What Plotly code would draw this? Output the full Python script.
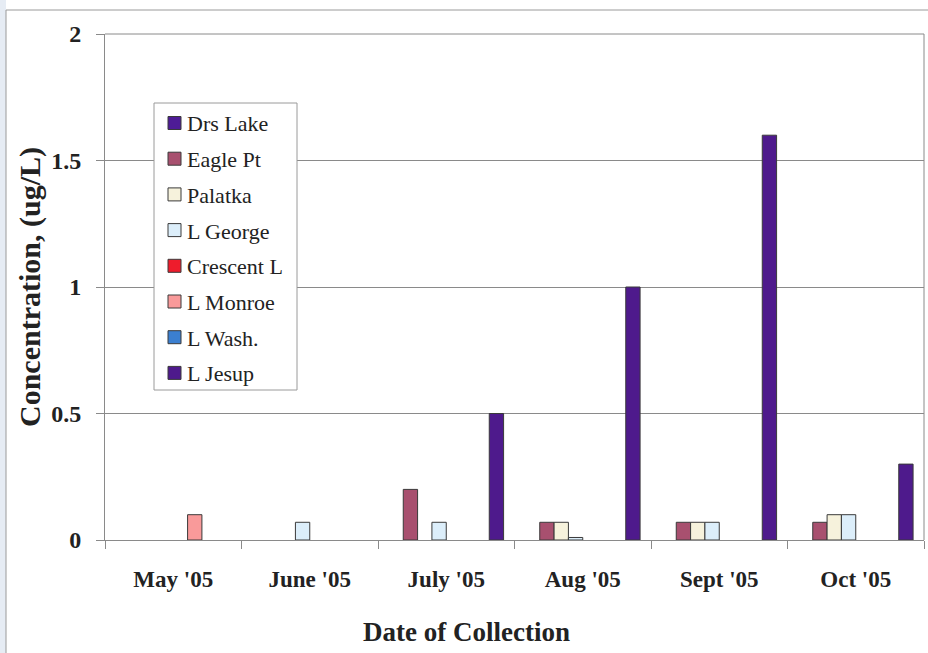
import plotly.graph_objects as go

months = ["May '05", "June '05", "July '05", "Aug '05", "Sept '05", "Oct '05"]
sites = ["Drs Lake", "Eagle Pt", "Palatka", "L George", "Crescent L", "L Monroe", "L Wash.", "L Jesup"]
colors = ["#4E1C96", "#A8506F", "#F6F2DC", "#DCEEFA", "#EE1C2C", "#F99A9A", "#3B7FD0", "#4E1A8C"]

drs_lake = [None, None, None, None, None, None]
eagle_pt = [None, None, 0.2, 0.07, 0.07, 0.07]
palatka = [None, None, None, 0.07, 0.07, 0.1]
l_george = [None, 0.07, 0.07, 0.01, 0.07, 0.1]
crescent_l = [None, None, None, None, None, None]
l_monroe = [0.1, None, None, None, None, None]
l_wash = [None, None, None, None, None, None]
l_jesup = [None, None, 0.5, 1.0, 1.6, 0.3]

series = [drs_lake, eagle_pt, palatka, l_george, crescent_l, l_monroe, l_wash, l_jesup]

FONT = "Liberation Serif"
W, H = 928, 653
L, R, T, B = 105, 4, 34, 113
pw, ph = W - L - R, H - T - B

def px(x):
    return (x - L) / pw

def py(y):
    return (H - B - y) / ph

fig = go.Figure()
for name, vals, col in zip(sites, series, colors):
    fig.add_trace(go.Bar(x=months, y=vals, name=name,
                         marker=dict(color=col, line=dict(color="#3a3a3a", width=1)),
                         showlegend=False))

shapes = []
annotations = []

# outer frame and scan strip
shapes.append(dict(type="rect", xref="paper", yref="paper", x0=px(0), x1=px(6), y0=py(H), y1=py(0),
                   fillcolor="#E6ECF4", line=dict(width=0), layer="below"))
shapes.append(dict(type="line", xref="paper", yref="paper", x0=px(6), x1=px(W), y0=py(10), y1=py(10),
                   line=dict(color="#9a9a9a", width=1)))
shapes.append(dict(type="line", xref="paper", yref="paper", x0=px(6), x1=px(6), y0=py(10), y1=py(H),
                   line=dict(color="#9a9a9a", width=1)))
# plot frame top/right
shapes.append(dict(type="line", xref="paper", yref="paper", x0=0, x1=1, y0=1, y1=1,
                   line=dict(color="#8a8a8a", width=1)))
shapes.append(dict(type="line", xref="paper", yref="paper", x0=1, x1=1, y0=0, y1=1,
                   line=dict(color="#8a8a8a", width=1)))

# legend box
lx0, lx1, ly0, ly1 = 154, 297, 103, 390
shapes.append(dict(type="rect", xref="paper", yref="paper", x0=px(lx0), x1=px(lx1), y0=py(ly1), y1=py(ly0),
                   fillcolor="white", line=dict(color="#9a9a9a", width=1)))
for i, (name, col) in enumerate(zip(sites, colors)):
    cy = 123 + i * 35.7
    shapes.append(dict(type="rect", xref="paper", yref="paper",
                       x0=px(168), x1=px(181), y0=py(cy + 6.5), y1=py(cy - 6.5),
                       fillcolor=col, line=dict(color="#3a3a3a", width=1)))
    annotations.append(dict(text=name, xref="paper", yref="paper", x=px(185), y=py(cy + 1),
                            xanchor="left", yanchor="middle", showarrow=False,
                            font=dict(family=FONT, size=22, color="#222", weight="normal")))

annotations.append(dict(text="<b>Date of Collection</b>", xref="paper", yref="paper",
                        x=px(466), y=py(632), xanchor="center", yanchor="middle", showarrow=False,
                        font=dict(family=FONT, size=27, color="#222")))
annotations.append(dict(text="<b>Concentration, (ug/L)</b>", xref="paper", yref="paper",
                        x=px(30), y=py(287), xanchor="center", yanchor="middle", showarrow=False,
                        textangle=-90, font=dict(family=FONT, size=30, color="#222")))

fig.update_layout(
    width=W, height=H,
    margin=dict(l=L, r=R, t=T, b=B),
    paper_bgcolor="white", plot_bgcolor="white",
    barmode="group", bargap=0.16, bargroupgap=0,
    font=dict(family=FONT, color="#222"),
    shapes=shapes, annotations=annotations,
    xaxis=dict(type="category", showgrid=False, showline=True, linecolor="#8a8a8a", linewidth=1,
               ticks="outside", tickson="boundaries", ticklen=8, tickcolor="#8a8a8a",
               tickfont=dict(family=FONT, size=23, color="#222", weight="bold"),
               ticklabelstandoff=18),
    yaxis=dict(range=[0, 2], dtick=0.5, showgrid=True, gridcolor="#8a8a8a", gridwidth=1,
               showline=True, linecolor="#8a8a8a", linewidth=1, zeroline=False,
               ticks="outside", ticklen=8, tickcolor="#8a8a8a",
               tickfont=dict(family=FONT, size=24, color="#222", weight="bold"),
               ticklabelstandoff=10),
)

fig.write_html("out.html", config={"displayModeBar": False},
               post_script="document.body.style.margin='0';document.body.style.overflow='hidden';")
